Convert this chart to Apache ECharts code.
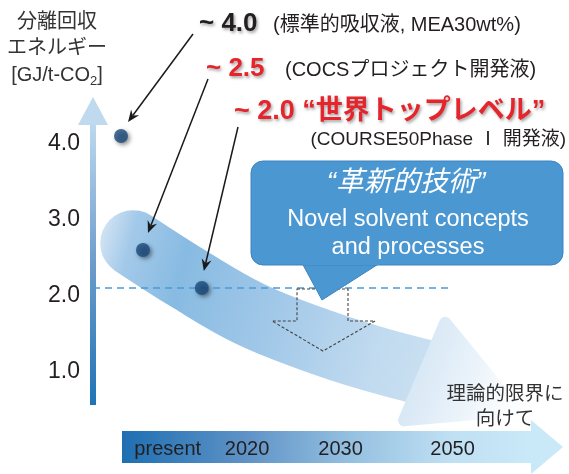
<!DOCTYPE html>
<html>
<head>
<meta charset="utf-8">
<script src="https://cdn.jsdelivr.net/npm/echarts@6/dist/echarts.min.js"></script>
<style>
  html, body { margin: 0; padding: 0; background: #ffffff; }
  #chart { width: 569px; height: 474px; }
</style>
</head>
<body>
<div id="chart"></div>
<script>
// Regeneration energy of CO2 capture solvents (GJ/t-CO2) and the roadmap ahead
const yTicks = [1, 2, 3, 4];

// solvent generations: position along the roadmap and their energy
const solventStage  = [6.0, 10.7, 23.3];
const solventEnergy = [4.0, 2.5, 2.0];
const solventValueText = ['~ 4.0', '~ 2.5', '~ 2.0 “世界トップレベル”'];
const solventNotes = ['(標準的吸収液, MEA30wt%)', '(COCSプロジェクト開発液)', '(COURSE50Phase Ⅰ 開発液)'];

// reference level drawn as a dashed line
const targetEnergy = 2.0;
const targetLineEnd = 77;

// broad downward trend towards the theoretical limit
const trendStage  = [8.6, 20.8, 33.6, 46.5, 59.3, 72.2];
const trendEnergy = [2.59, 2.11, 1.66, 1.34, 1.08, 0.87];

// timeline under the chart
const timelineLabels = ['present', '2020', '2030', '2050'];
const timelineStage  = [16, 33, 53, 77];

const FONT = '"Liberation Sans", Arial, "Noto Sans CJK JP", sans-serif';
const TEXT = '#231f20';
const RED = '#e5242b';

const chart = echarts.init(document.getElementById('chart'), null, { renderer: 'canvas' });

const trendGradient = new echarts.graphic.LinearGradient(0, 0, 1, 0.5, [
  { offset: 0.0, color: '#dce9f6' },
  { offset: 0.1, color: '#a3c9e9' },
  { offset: 0.25, color: '#88bbe2' },
  { offset: 0.5, color: '#a0c7e8' },
  { offset: 0.8, color: '#c0daef' },
  { offset: 1.0, color: '#cde1f2' }
]);

function renderTrendHead(params, api) {
  const n = trendStage.length;
  const a = api.coord([trendStage[n - 2], trendEnergy[n - 2]]);
  const b = api.coord([trendStage[n - 1], trendEnergy[n - 1]]);
  const ang = Math.atan2(b[1] - a[1], b[0] - a[0]) + 8 * Math.PI / 180;
  const d = [Math.cos(ang), Math.sin(ang)];
  const nrm = [-d[1], d[0]];
  const base = [b[0] - 6 * d[0], b[1] - 6 * d[1]];
  const hw = 53, len = 100;
  const pts = [
    [base[0] - hw * nrm[0], base[1] - hw * nrm[1]],
    [base[0] + len * d[0], base[1] + len * d[1]],
    [base[0] + hw * nrm[0], base[1] + hw * nrm[1]]
  ];
  const grad = new echarts.graphic.LinearGradient(0, 0, 1, 0.4, [
    { offset: 0, color: '#cde1f2' },
    { offset: 0.5, color: '#e2eef8' },
    { offset: 1, color: '#fbfdfe' }
  ]);
  return {
    type: 'polygon',
    shape: { points: pts },
    style: { fill: grad, stroke: grad, lineWidth: 12, lineJoin: 'round' }
  };
}

const option = {
  animation: false,
  grid: { left: 93, width: 467, top: 60, height: 380, outerBoundsMode: 'none', containLabel: false },
  xAxis: { type: 'value', min: 0, max: 100, show: false },
  yAxis: {
    type: 'value', min: 0, max: 5, interval: 1,
    axisLine: { show: false }, axisTick: { show: false }, splitLine: { show: false },
    axisLabel: {
      formatter: v => (yTicks.includes(v) ? v.toFixed(1) : ''),
      fontSize: 23, color: TEXT, fontFamily: FONT, margin: 13,
      verticalAlign: 'top', lineHeight: 16
    }
  },
  series: [
    {
      type: 'line', name: 'trend', z: 1, smooth: 0.4, symbol: 'none', silent: true,
      data: trendStage.map((x, i) => [x, trendEnergy[i]]),
      lineStyle: { width: 66, cap: 'round', join: 'round', color: trendGradient }
    },
    {
      type: 'custom', name: 'trendHead', z: 2, silent: true,
      data: [[trendStage[trendStage.length - 1], trendEnergy[trendEnergy.length - 1]]],
      renderItem: renderTrendHead
    },
    {
      type: 'line', name: 'target', z: 3, symbol: 'none', silent: true,
      data: [[0, targetEnergy], [targetLineEnd, targetEnergy]],
      lineStyle: { color: '#4a9ad8', width: 1.6, type: [7, 5] }
    },
    {
      type: 'scatter', name: 'solvents', z: 10, symbolSize: 14,
      data: solventStage.map((x, i) => [x, solventEnergy[i]]),
      itemStyle: {
        color: '#1b4b7c', shadowBlur: 4, shadowColor: 'rgba(0,0,0,0.55)',
        shadowOffsetX: 2, shadowOffsetY: 2
      }
    }
  ]
};

chart.setOption(option);

const px = (x, y) => chart.convertToPixel({ gridIndex: 0 }, [x, y]);

function text(x, y, str, font, fill, align, extra) {
  return {
    type: 'text', z: 20,
    style: Object.assign({
      x: x, y: y, text: str, font: font, fill: fill,
      align: align || 'left', textAlign: align || 'left',
      verticalAlign: 'middle', textVerticalAlign: 'middle'
    }, extra || {})
  };
}

function pointer(x1, y1, x2, y2) {
  const L = Math.hypot(x2 - x1, y2 - y1);
  const d = [(x2 - x1) / L, (y2 - y1) / L];
  const n = [-d[1], d[0]];
  const back = 12, notch = 8, half = 5;
  return [
    { type: 'line', z: 15, shape: { x1: x1, y1: y1, x2: x2 - notch * d[0], y2: y2 - notch * d[1] },
      style: { stroke: '#1a1a1a', lineWidth: 1.5 } },
    { type: 'polygon', z: 15, shape: { points: [
        [x2, y2],
        [x2 - back * d[0] + half * n[0], y2 - back * d[1] + half * n[1]],
        [x2 - notch * d[0], y2 - notch * d[1]],
        [x2 - back * d[0] - half * n[0], y2 - back * d[1] - half * n[1]]
      ] }, style: { fill: '#1a1a1a' } }
  ];
}

const axisX = px(0, 0)[0];
const shadowStyle = { textShadowColor: 'rgba(0,0,0,0.35)', textShadowBlur: 3, textShadowOffsetX: 1.5, textShadowOffsetY: 1.5 };
const graphics = [];

// vertical energy axis drawn as a gradient arrow
graphics.push({
  type: 'rect', z: 2, shape: { x: axisX - 3, y: 124, width: 6, height: 281 },
  style: { fill: new echarts.graphic.LinearGradient(0, 0, 0, 1, [
    { offset: 0, color: '#bdd8ee' }, { offset: 0.5, color: '#6c9ccb' }, { offset: 1, color: '#1f74b6' }
  ]) }
});
graphics.push({
  type: 'polygon', z: 2,
  shape: { points: [[axisX - 15, 125], [axisX, 97], [axisX + 15, 125]] },
  style: { fill: '#bfd9ef' }
});

// axis title
graphics.push(text(57, 22, '分離回収', '20px ' + FONT, '#333', 'center'));
graphics.push(text(57, 48, 'エネルギー', '20px ' + FONT, '#333', 'center'));
graphics.push({
  type: 'text', z: 20,
  style: {
    x: 57, y: 75, text: '[GJ/t-CO{sub|2}]', font: '20px ' + FONT, fill: '#333',
    align: 'center', textAlign: 'center', verticalAlign: 'middle', textVerticalAlign: 'middle',
    rich: { sub: { fontSize: 13, fontFamily: FONT, fill: '#333', padding: [12, 0, 0, 0] } }
  }
});

// solvent annotations
graphics.push(text(199, 24, solventValueText[0], 'bold 26px ' + FONT, TEXT, 'left', shadowStyle));
graphics.push(text(273, 25, solventNotes[0], '20px ' + FONT, TEXT));
graphics.push(text(206, 69, solventValueText[1], 'bold 26px ' + FONT, RED, 'left', shadowStyle));
graphics.push(text(285, 70, solventNotes[1], '20px ' + FONT, TEXT));
graphics.push(text(234, 112, solventValueText[2], 'bold 27px ' + FONT, RED, 'left', shadowStyle));
graphics.push(text(566, 140, solventNotes[2], '19px ' + FONT, TEXT, 'right'));

// arrows from annotations to the solvent points
const arrowStarts = [[193, 34], [208, 79], [238, 127]];
const arrowOffsets = [[7, -14], [5, -17], [2, -17]];
solventStage.forEach((s, i) => {
  const p = px(s, solventEnergy[i]);
  pointer(arrowStarts[i][0], arrowStarts[i][1], p[0] + arrowOffsets[i][0], p[1] + arrowOffsets[i][1])
    .forEach(g => graphics.push(g));
});

// dashed outline arrow under the reference line
const ty = px(0, targetEnergy)[1] + 1;
graphics.push({
  type: 'polygon', z: 4,
  shape: { points: [[297, ty], [348, ty], [348, ty + 32], [375, ty + 32], [323, ty + 62], [272, ty + 32], [297, ty + 32]] },
  style: { fill: 'none', stroke: '#444', lineWidth: 1.1, lineDash: [3, 2] }
});

// callout box with its pointer
graphics.push({
  type: 'polygon', z: 6,
  shape: { points: [[302, 263], [380, 263], [322, 300]] },
  style: { fill: '#4b97d1', stroke: '#3d84c0', lineWidth: 1 }
});
graphics.push({
  type: 'rect', z: 6,
  shape: { x: 251, y: 161, width: 312, height: 104, r: 12 },
  style: { fill: '#4b97d1', stroke: '#3d84c0', lineWidth: 1 }
});
graphics.push({
  type: 'rect', z: 7,
  shape: { x: 303, y: 262, width: 76, height: 3 },
  style: { fill: '#4b97d1' }
});
graphics.push(text(406, 183, '“革新的技術”', 'italic 28px ' + FONT, '#ffffff', 'center'));
graphics.push(text(408, 220, 'Novel solvent concepts', '23.5px ' + FONT, '#ffffff', 'center'));
graphics.push(text(408, 248, 'and processes', '23.5px ' + FONT, '#ffffff', 'center'));

// theoretical limit label
graphics.push(text(505, 395, '理論的限界に', '19.5px ' + FONT, '#333', 'center'));
graphics.push(text(505, 420, '向けて', '19.5px ' + FONT, '#333', 'center'));

// timeline arrow
graphics.push({
  type: 'rect', z: 8, shape: { x: 122, y: 431, width: 410, height: 32 },
  style: { fill: new echarts.graphic.LinearGradient(0, 0, 1, 0, [
    { offset: 0, color: '#1e6fb2' }, { offset: 0.3, color: '#5e92c6' },
    { offset: 0.55, color: '#93bfe0' }, { offset: 0.8, color: '#bfe0f3' }, { offset: 1, color: '#c9e9f8' }
  ]) }
});
graphics.push({
  type: 'polygon', z: 8, shape: { points: [[531, 420], [563, 447], [531, 474]] },
  style: { fill: '#c9e9f8' }
});
timelineLabels.forEach((lab, i) => {
  graphics.push(text(px(timelineStage[i], 0)[0], 449, lab, '20px ' + FONT, TEXT, 'center'));
});

chart.setOption({ graphic: { elements: graphics } });
</script>
</body>
</html>
